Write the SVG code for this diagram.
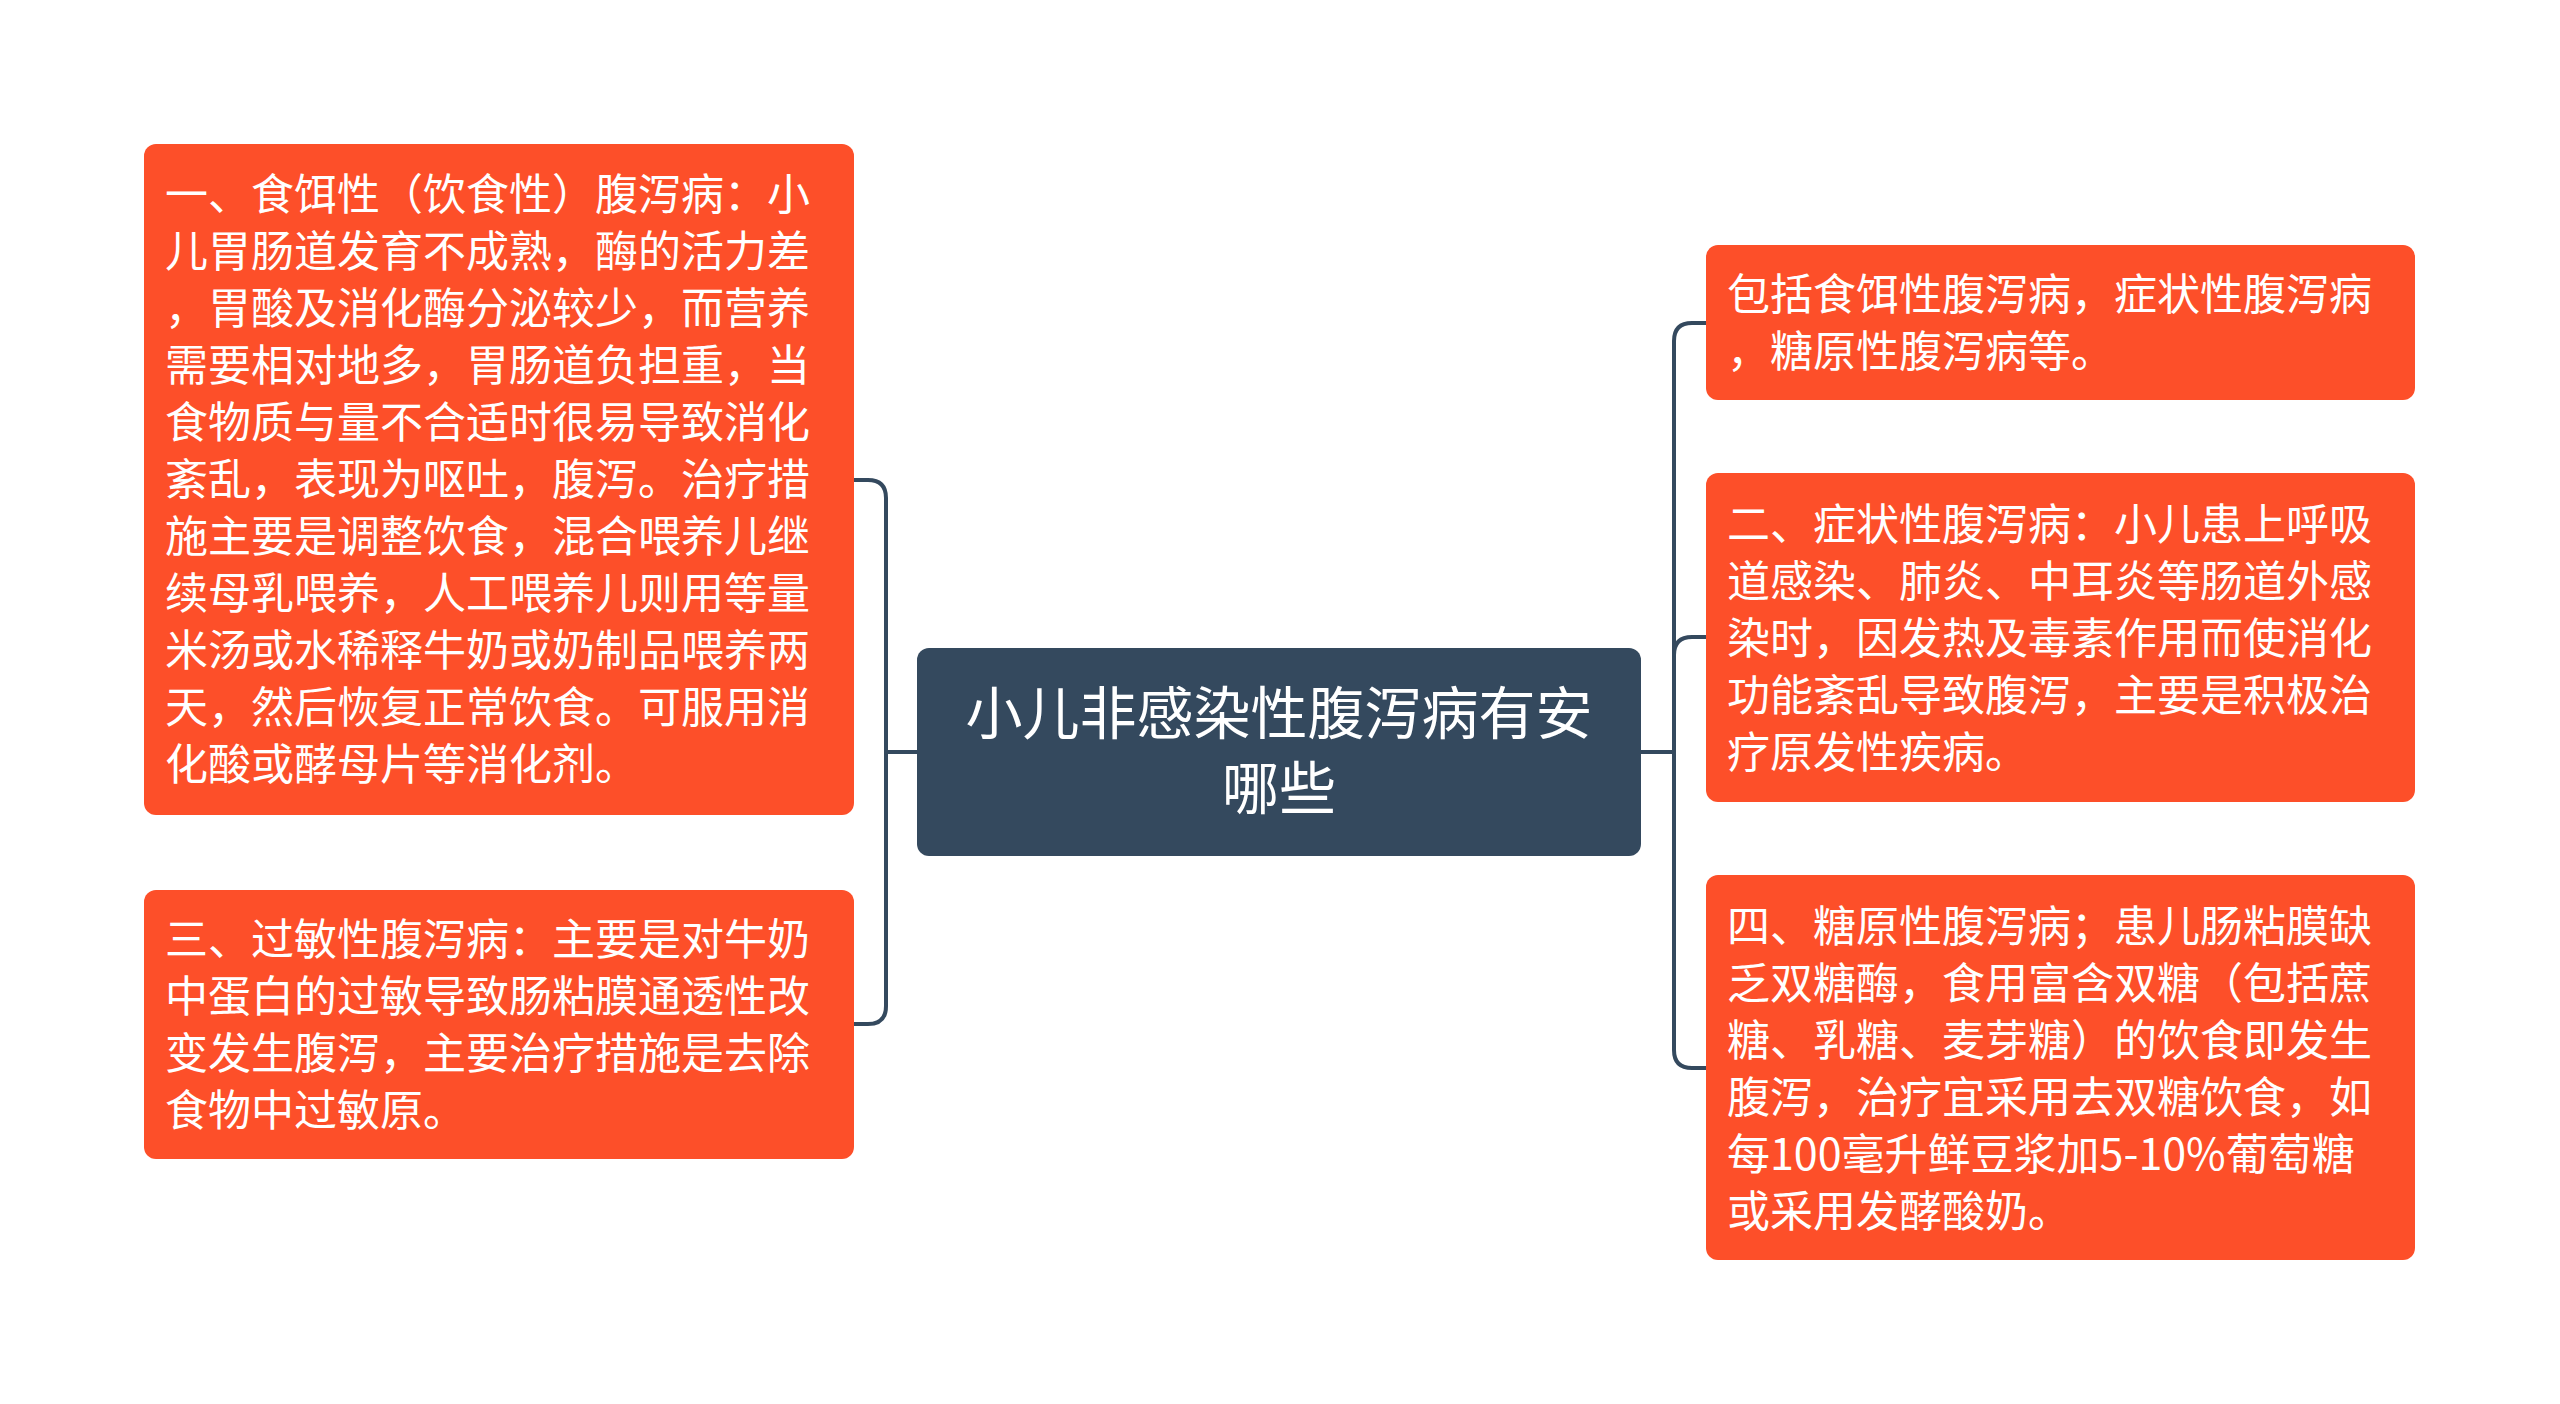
<svg xmlns="http://www.w3.org/2000/svg" width="2560" height="1404" viewBox="0 0 2560 1404">
<style>
.bg{fill:#ffffff}
.leaf{fill:#fd4f29}
.root{fill:#34495e}
.t{font-family:"Noto Sans CJK SC","Noto Sans",sans-serif;fill:#ffffff;font-size:43px}
.rt{font-family:"Noto Sans CJK SC","Noto Sans",sans-serif;fill:#ffffff;font-size:57px}
.c{fill:none;stroke:#34495e;stroke-width:4;stroke-linecap:round}
</style>
<rect class="bg" x="0" y="0" width="2560" height="1404"/>
<g id="connectors">
<path class="c" d="M917,752 H886"/>
<path class="c" d="M854,480 H868 Q886,480 886,498 V1006 Q886,1024 868,1024 H854"/>
<path class="c" d="M1641,752 H1674"/>
<path class="c" d="M1706,323 H1692 Q1674,323 1674,341 V1050 Q1674,1068 1692,1068 H1706"/>
<path class="c" d="M1674,655 Q1674,637 1692,637 H1706"/>
</g>
<g id="root">
<rect class="root" x="917" y="648" width="724" height="208" rx="12"/>
<text class="rt" text-anchor="middle"><tspan x="1279" y="734">小儿非感染性腹泻病有安</tspan><tspan x="1279" y="809">哪些</tspan></text>
</g>
<g id="node-left1">
<rect class="leaf" x="144" y="144" width="710" height="671" rx="12"/>
<text class="t"><tspan x="165" y="210">一、食饵性（饮食性）腹泻病：小</tspan><tspan x="165" y="267">儿胃肠道发育不成熟，酶的活力差</tspan><tspan x="165" y="324">，胃酸及消化酶分泌较少，而营养</tspan><tspan x="165" y="381">需要相对地多，胃肠道负担重，当</tspan><tspan x="165" y="438">食物质与量不合适时很易导致消化</tspan><tspan x="165" y="495">紊乱，表现为呕吐，腹泻。治疗措</tspan><tspan x="165" y="552">施主要是调整饮食，混合喂养儿继</tspan><tspan x="165" y="609">续母乳喂养，人工喂养儿则用等量</tspan><tspan x="165" y="666">米汤或水稀释牛奶或奶制品喂养两</tspan><tspan x="165" y="723">天，然后恢复正常饮食。可服用消</tspan><tspan x="165" y="780">化酸或酵母片等消化剂。</tspan></text>
</g>
<g id="node-left2">
<rect class="leaf" x="144" y="890" width="710" height="269" rx="12"/>
<text class="t"><tspan x="165" y="955">三、过敏性腹泻病：主要是对牛奶</tspan><tspan x="165" y="1012">中蛋白的过敏导致肠粘膜通透性改</tspan><tspan x="165" y="1069">变发生腹泻，主要治疗措施是去除</tspan><tspan x="165" y="1126">食物中过敏原。</tspan></text>
</g>
<g id="node-right1">
<rect class="leaf" x="1706" y="245" width="709" height="155" rx="12"/>
<text class="t"><tspan x="1727" y="310">包括食饵性腹泻病，症状性腹泻病</tspan><tspan x="1727" y="367">，糖原性腹泻病等。</tspan></text>
</g>
<g id="node-right2">
<rect class="leaf" x="1706" y="473" width="709" height="329" rx="12"/>
<text class="t"><tspan x="1727" y="540">二、症状性腹泻病：小儿患上呼吸</tspan><tspan x="1727" y="597">道感染、肺炎、中耳炎等肠道外感</tspan><tspan x="1727" y="654">染时，因发热及毒素作用而使消化</tspan><tspan x="1727" y="711">功能紊乱导致腹泻，主要是积极治</tspan><tspan x="1727" y="768">疗原发性疾病。</tspan></text>
</g>
<g id="node-right3">
<rect class="leaf" x="1706" y="875" width="709" height="385" rx="12"/>
<text class="t"><tspan x="1727" y="942">四、糖原性腹泻病；患儿肠粘膜缺</tspan><tspan x="1727" y="999">乏双糖酶，食用富含双糖（包括蔗</tspan><tspan x="1727" y="1056">糖、乳糖、麦芽糖）的饮食即发生</tspan><tspan x="1727" y="1113">腹泻，治疗宜采用去双糖饮食，如</tspan><tspan x="1727" y="1170">每100毫升鲜豆浆加5-10%葡萄糖</tspan><tspan x="1727" y="1227">或采用发酵酸奶。</tspan></text>
</g>
</svg>
